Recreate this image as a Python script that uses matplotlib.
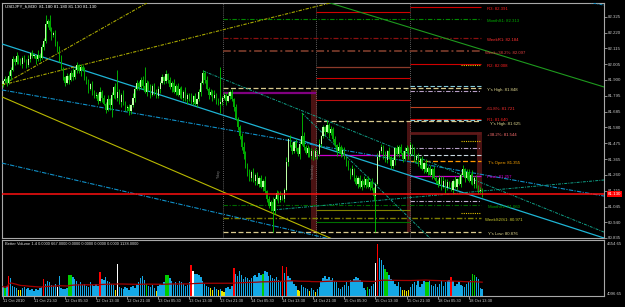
import matplotlib
matplotlib.use('Agg')
import matplotlib.pyplot as plt
import numpy as np
import pandas as pd

W, H = 625, 307
FONT = 'Liberation Sans'

# ---------------- data ----------------
first_open = 81.87
closes = [
    81.89, 81.91, 81.88, 81.93, 81.97, 82.04, 82.02, 82.06, 82.03, 82.01, 82.05, 82.03, 82.00, 82.04, 82.08, 82.06,
    82.06, 82.04, 82.07, 82.05, 82.12, 82.16, 82.28, 82.30, 82.24, 82.20, 82.22, 82.15, 82.10, 82.05, 81.98, 81.92,
    81.88, 81.93, 81.90, 81.95, 81.92, 81.97, 82.00, 81.96, 81.99, 81.97, 81.92, 81.88, 81.84, 81.87, 81.82, 81.79,
    81.80, 81.76, 81.82, 81.78, 81.74, 81.70, 81.77, 81.73, 81.80, 81.85, 81.78, 81.82, 81.75, 81.80, 81.74, 81.71,
    81.72, 81.69, 81.73, 81.78, 81.84, 81.88, 81.85, 81.90, 81.86, 81.82, 81.88, 81.84, 81.80, 81.86, 81.83, 81.79,
    81.84, 81.88, 81.92, 81.89, 81.94, 81.90, 81.85, 81.88, 81.82, 81.86, 81.80, 81.84, 81.78, 81.82, 81.77, 81.80,
    81.78, 81.75, 81.79, 81.74, 81.77, 81.82, 81.88, 81.95, 81.90, 81.84, 81.80, 81.82, 81.78, 81.80, 81.76, 81.74,
    81.75, 81.78, 81.80, 81.76, 81.79, 81.82, 81.77, 81.72, 81.64, 81.58, 81.52, 81.45, 81.40, 81.33, 81.28, 81.24,
    81.28, 81.22, 81.26, 81.20, 81.24, 81.18, 81.22, 81.15, 81.10, 81.05, 81.08, 81.02, 81.10, 81.14, 81.09, 81.12,
    81.10, 81.16, 81.35, 81.50, 81.46, 81.42, 81.48, 81.44, 81.40, 81.47, 81.52, 81.45, 81.41, 81.44, 81.39, 81.42,
    81.38, 81.42, 81.40, 81.47, 81.52, 81.58, 81.55, 81.60, 81.54, 81.57, 81.50, 81.46, 81.42, 81.45, 81.40, 81.43,
    81.38, 81.34, 81.30, 81.26, 81.30, 81.24, 81.20, 81.24, 81.18, 81.22, 81.19, 81.23, 81.18, 81.21, 81.17, 81.12,
    81.20, 81.38, 81.42, 81.45, 81.40, 81.36, 81.42, 81.38, 81.32, 81.36, 81.44, 81.40, 81.45, 81.41, 81.37, 81.42,
    81.44, 81.40, 81.46, 81.42, 81.36, 81.39, 81.33, 81.37, 81.30, 81.34, 81.28, 81.31, 81.26, 81.30, 81.24, 81.22,
    81.20, 81.24, 81.18, 81.22, 81.17, 81.21, 81.19, 81.16, 81.22, 81.18, 81.23, 81.20, 81.26, 81.30, 81.24, 81.28,
    81.22, 81.26, 81.20, 81.24, 81.18, 81.15, 81.16, 81.13,
]
# wick lengths above / below each body, in hundredths of a yen (one digit per bar)
wick_up = ("1213221312121312" "2131223142121321" "1212312121213121" "2131213121312132"
           "1213121231213121" "2121312131212131" "1312121213121312" "2121312121223212"
           "1312121312131213" "2131321212131212" "1213121312121312" "2121312121312131"
           "1312121312121213" "2121312121312121" "1213121213121312" "21312121")
wick_dn = ("2121312121312121" "1312121213121312" "2131212131213121" "1213121312121312"
           "2121312121312131" "1312121312121213" "2121213121312121" "1213121312223232"
           "2131213121312121" "1213121213121312" "2131212131213121" "1213121312121213"
           "2121312121312121" "1312121213121312" "2121312131212131" "12131212")
spike_hi = [(22, 82.338), (59, 81.968), (73, 81.988), (103, 81.968), (112, 81.988), (154, 81.678)]
spike_lo = [(56, 81.651), (65, 81.664), (112, 81.678), (139, 80.875), (192, 80.875)]

volumes = [
    835, 745, 930, 1765, 1580, 930, 835, 745, 560, 560, 745, 835, 650, 745, 560, 650,
    465, 650, 560, 745, 835, 1490, 1115, 1300, 1210, 1025, 930, 1115, 835, 1765, 745, 650,
    650, 745, 1860, 1860, 1675, 1490, 1300, 1115, 1210, 1025, 1115, 930, 835, 1210, 1025, 930,
    1115, 930, 2140, 1490, 1395, 1675, 1300, 1210, 1115, 1025, 560, 2885, 835, 745, 650, 835,
    745, 560, 835, 930, 745, 1025, 1210, 1580, 1765, 1395, 1115, 930, 835, 1025, 745, 465,
    930, 1115, 1025, 1210, 1860, 1860, 1580, 1300, 1115, 1210, 1025, 1300, 1210, 1115, 930, 1025,
    1210, 2790, 2230, 1955, 1955, 1860, 1675, 1300, 1115, 930, 835, 745, 560, 835, 650, 560,
    650, 465, 370, 745, 835, 650, 930, 2510, 1955, 1765, 2230, 1860, 1490, 1675, 1580, 1395,
    1580, 1765, 1860, 1675, 2045, 1860, 1955, 2230, 2140, 1765, 1860, 1580, 1490, 1675, 1395, 1300,
    2700, 2045, 2605, 1765, 1580, 1300, 1115, 930, 560, 465, 1025, 835, 745, 650, 465, 745,
    560, 370, 650, 835, 1210, 1580, 1765, 1490, 1675, 1395, 1580, 1300, 1210, 745, 650, 835,
    1025, 1210, 930, 1395, 1300, 1490, 1675, 1580, 1395, 1210, 745, 560, 835, 650, 930, 1115,
    2975, 4650, 3440, 3255, 2790, 2420, 2140, 1860, 1490, 1300, 1115, 930, 1210, 835, 560, 560,
    465, 560, 835, 1115, 1210, 1025, 1395, 835, 1115, 1300, 1210, 1210, 1395, 1025, 930, 1115,
    835, 1115, 1300, 930, 1210, 1300, 1395, 1675, 1300, 930, 1115, 1210, 1025, 930, 835, 1115,
    1210, 1395, 1955, 1860, 1675, 1490, 745, 667,
]
vol_codes = ("cgcrccccyycccccc" "cccccrccccccwccc"
             "ccggcccccccccccc" "ccrcccccccywcccc" "ccccccccccgccccy" "ccccggcccccccccc"
             "crwccccccccyyccy" "cyyccccrcccccccc" "ccccccgccccccccc" "rcrcccccyyccccyc"
             "cycccccccccccccc" "ccccccccccccgccc" "wrcccggcccccccyy" "yyccccccccggcccc"
             "cccccccrcccccccc" "ccggcccc")
vol_colors = {'c': '#14A8E6', 'r': '#FF0000', 'g': '#00CC00', 'y': '#E8E800', 'w': '#FFFFFF'}
vol_ma_window = 100

price_ticks = [82.325, 82.220, 82.115, 82.005, 81.900, 81.795, 81.685, 81.580,
               81.475, 81.365, 81.260, 81.155, 81.045, 80.940, 80.835]
date_labels = ["11 Oct 2010", "11 Oct 21:30", "12 Oct 05:30", "12 Oct 13:30", "12 Oct 21:30",
               "13 Oct 05:30", "13 Oct 13:30", "13 Oct 21:30", "14 Oct 05:30", "14 Oct 13:30",
               "14 Oct 21:30", "15 Oct 05:30", "15 Oct 13:30", "15 Oct 21:30", "18 Oct 05:30",
               "18 Oct 13:30"]
bars_per_label = 16
bid = 81.130

# day separators (bar index) and end of today's levels
sep_a, sep_b, sep_c, lvl_end = 113.5, 161.5, 210.0, 246.5

DDOT_T = (0, (3, 1.2, 1, 1.2))
# trend lines: (bar0, price0, bar1, price1, color, style, lw)
trendlines = [
    (-0.5, 82.143, 309.8, 80.835, '#1EB4D4', '-', 0.9),
    (-0.5, 81.833, 309.8, 81.118, '#1090C8', (0, (4, 1.2, 1, 1.2)), 0.8),
    (-0.5, 81.340, 171.1, 80.821, '#1090C8', (0, (4, 1.2, 1, 1.2)), 0.8),
    (-0.5, 81.786, 171.1, 80.821, '#B8B800', '-', 0.8),
    (-0.5, 81.866, 74.2, 82.419, '#A8A800', DDOT_T, 0.8),
    (-0.5, 81.866, 168.6, 82.419, '#A8A800', DDOT_T, 0.8),
    (168.6, 82.419, 309.8, 81.853, '#1E9A1E', '-', 0.8),
    (103.1, 81.961, 309.8, 80.875, '#10A088', DDOT_T, 0.7),
    (154.1, 81.678, 221.1, 80.821, '#10A088', DDOT_T, 0.7),
    (139.2, 81.024, 309.8, 81.226, '#10A088', DDOT_T, 0.7),
    (298.0, 82.432, 309.8, 82.405, '#1090C8', DDOT_T, 0.7),
]

DASH = (0, (4, 2))
DDOT = (0, (4, 1.5, 1, 1.5))
DOT = (0, (1, 1))
# horizontal levels: (price, bar0, bar1, color, style, lw)
levels = [
    (82.391, sep_c, lvl_end, '#D00000', '-', 0.8),
    (82.359, sep_b, sep_c, '#D00000', '-', 0.8),
    (82.313, sep_a, lvl_end, '#008800', DDOT, 0.8),
    (82.184, sep_a, lvl_end, '#8B1010', DDOT, 0.9),
    (82.097, sep_a, lvl_end, '#6B3426', DDOT, 1.4),
    (82.008, sep_c, lvl_end, '#D00000', '-', 0.8),
    (82.000, 236.0, lvl_end, '#E0C000', DOT, 0.8),
    (81.988, sep_b, sep_c, '#8B3A2A', '-', 0.9),
    (81.914, sep_b, sep_c, '#D00000', '-', 0.8),
    (81.860, sep_c, lvl_end, '#80C8D8', DASH, 0.8),
    (81.848, sep_a, lvl_end, '#D8C88C', DASH, 0.9),
    (81.828, sep_c, lvl_end, '#B8A0C8', DDOT, 0.8),
    (81.815, sep_a, sep_b, '#800080', '-', 1.6),
    (81.765, sep_b, sep_c, '#C01010', '-', 0.8),
    (81.721, sep_c, lvl_end, '#C04020', '-', 0.8),
    (81.640, sep_c, lvl_end, '#D00000', '-', 0.8),
    (81.632, sep_c, lvl_end, '#80C8D8', DASH, 0.8),
    (81.625, sep_b, lvl_end, '#D8C88C', DASH, 0.9),
    (81.544, sep_c, lvl_end, '#5E1818', '-', 2.0),
    (81.489, 236.0, lvl_end, '#E0C000', DOT, 0.8),
    (81.442, sep_c, lvl_end, '#B8A0C8', DDOT, 0.8),
    (81.394, sep_c, lvl_end, '#C8D8E0', DASH, 0.8),
    (81.394, sep_b, sep_c, '#CC00CC', '-', 0.9),
    (81.355, sep_c, lvl_end, '#FF9900', DASH, 0.9),
    (81.255, sep_c, lvl_end, '#CC00CC', '-', 0.9),
    (81.084, sep_c, lvl_end, '#C0B0D0', DDOT, 0.8),
    (81.058, sep_a, lvl_end, '#006A00', DDOT, 0.8),
    (81.024, sep_b, sep_c, '#808000', '-', 0.8),
    (81.003, 236.0, lvl_end, '#E0C000', DOT, 0.8),
    (80.971, sep_a, lvl_end, '#808000', DDOT, 1.0),
    (80.943, sep_b, sep_c, '#007000', '-', 0.8),
    (80.876, sep_a, lvl_end, '#D8C88C', DASH, 0.9),
]

# level labels: (text, price, bar, color)
level_labels = [
    ("R3: 82.391", 82.391, 249.5, '#FF2020'),
    ("MonthS1: 82.313", 82.313, 249.5, '#00B000'),
    ("WeekR1: 82.184", 82.184, 249.5, '#FF3030'),
    ("Week+38.2%: 82.097", 82.097, 248.5, '#E04040'),
    ("R2: 82.008", 82.008, 249.5, '#FF2020'),
    ("Y's High: 81.848", 81.848, 249.5, '#E0D890'),
    ("-61.8%: 81.721", 81.721, 249.0, '#FF3030'),
    ("R1: 81.640", 81.642, 249.5, '#FF2020'),
    ("Y's High: 81.625", 81.618, 251.0, '#E0D890'),
    ("+38.2%: 81.544", 81.544, 249.5, '#FF7070'),
    ("T's Open: 81.355", 81.355, 250.0, '#FFA500'),
    ("Pivot: 81.257", 81.257, 249.5, '#E000E0'),
    ("MonthS2: 81.060", 81.060, 250.0, '#00A000'),
    ("WeekS2/S1: 80.971", 80.971, 248.5, '#D0D030'),
    ("Y's Low: 80.876", 80.876, 250.0, '#E0D890'),
]

# dark daily range columns: (bar0, bar1, top, bottom)
range_cols = [(158.8, 161.9, 81.833, 80.869), (208.2, 210.3, 81.625, 80.876), (244.3, 246.9, 81.547, 81.142)]

# ---------------- figure ----------------
fig = plt.figure(figsize=(W / 100, H / 100), dpi=100, facecolor='black')
ax = fig.add_axes([2 / W, 1 - 238 / H, 602 / W, 235 / H], facecolor='black')
vax = fig.add_axes([2 / W, 1 - 296 / H, 602 / W, 56 / H], facecolor='black')

n = len(closes)
idx = np.arange(n)
opens = np.array([first_open] + closes[:-1])
cl = np.array(closes)
XL = (-0.5, 309.8)

for a in (ax, vax):
    a.set_xlim(*XL)
    for s in a.spines.values():
        s.set_color('#A8A8A8')
        s.set_linewidth(0.8)

ax.set_ylim(80.835, 82.419)

# range columns
for b0, b1, top, bot in range_cols:
    ax.fill_between([b0, b1], bot, top, color='#4A1212', lw=0, zorder=1)

# separators
for s in (sep_a, sep_b, sep_c):
    ax.axvline(s, color='#808080', lw=0.6, ls=(0, (1, 1.5)), zorder=1)
ax.text(111.3, 81.273, "Y'day", rotation=90, fontsize=2.6, color='#7A7A7A', family=FONT, ha='center', va='center')
ax.text(159.8, 81.286, "Yesterday", rotation=90, fontsize=2.6, color='#7A7A7A', family=FONT, ha='center', va='center')

# levels
for p, b0, b1, c, ls, lw in levels:
    ax.hlines(p, b0, b1, colors=c, linestyles=[ls], lw=lw, zorder=2)

# trend lines
for b0, p0, b1, p1, c, ls, lw in trendlines:
    ax.plot([b0, b1], [p0, p1], color=c, ls=ls, lw=lw, zorder=3)

# candles
body_top = np.maximum(opens, cl)
body_bot = np.minimum(opens, cl)
highs = body_top + np.array([int(ch) for ch in wick_up[:n]]) * 0.01
lows = body_bot - np.array([int(ch) for ch in wick_dn[:n]]) * 0.01
for b, hi in spike_hi:
    highs[b] = hi
for b, lo in spike_lo:
    lows[b] = lo
ax.vlines(idx, lows, highs, color='#00C800', lw=0.6, zorder=4)
bull = cl >= opens
body_h = np.maximum(body_top - body_bot, 0.006)
ax.bar(idx[bull], body_h[bull], bottom=body_bot[bull], width=0.6, color='#C0FFA8',
       linewidth=0, zorder=5)
ax.bar(idx[~bull], body_h[~bull], bottom=body_bot[~bull], width=0.6, color='#00A800',
       linewidth=0, zorder=5)

# bid line
ax.axhline(bid, color='#FF1010', lw=1.1, zorder=6)

# level labels
for t, p, b, c in level_labels:
    ax.text(b, p, t, fontsize=3.1, color=c, family=FONT, va='top', ha='left', zorder=7)

# y axis
ax.yaxis.tick_right()
ax.set_yticks(price_ticks)
ax.set_yticklabels([f"{v:.3f}" for v in price_ticks])
ax.tick_params(axis='y', length=2, width=0.5, color='#C0C0C0', labelsize=3.2,
               labelcolor='#C8C8C8', pad=1)
for lab in ax.get_yticklabels():
    lab.set_family(FONT)
ax.set_xticks([])
ax.text(1.006, (bid - 80.835) / (82.419 - 80.835), f"{bid:.3f}", transform=ax.transAxes,
        fontsize=3.2, family=FONT, color='white', va='center', ha='left', zorder=10,
        bbox=dict(boxstyle='square,pad=0.25', fc='#FF0000', ec='none'))

fig.text(5 / W, 1 - 6 / H, "USDJPY_fi,M30  81.180 81.180 81.130 81.130", fontsize=3.2,
         color='white', family=FONT, va='center', ha='left')

# ---------------- volume ----------------
vcols = [vol_colors[c] for c in vol_codes[:n]]
vax.bar(idx, volumes, width=0.72, color=vcols, linewidth=0, zorder=2)
ma = pd.Series(volumes).rolling(vol_ma_window, min_periods=1).mean()
vax.plot(idx, ma, color='#A00000', lw=0.9, zorder=3)
vax.set_ylim(0, 5012)
vax.set_yticks([])
vax.set_xticks(np.arange(len(date_labels)) * bars_per_label)
vax.set_xticklabels(date_labels)
vax.tick_params(axis='x', length=2, width=0.5, color='#C0C0C0', labelsize=2.9,
                labelcolor='#D0D0D0', pad=0.5)
for lab in vax.get_xticklabels():
    lab.set_family(FONT)
    lab.set_horizontalalignment('left')
vax.text(0.005, 0.92, "Better Volume 1.4 0.0000 667.0000 0.0000 0.0000 0.0000 0.0000 1138.0000",
         transform=vax.transAxes, fontsize=2.9, color='#E0E0E0', family=FONT, va='center', ha='left')
fig.text(607 / W, 1 - 244 / H, "4654.65", fontsize=3.1, color='#C8C8C8', family=FONT, va='center')
fig.text(607 / W, 1 - 294 / H, "4096.65", fontsize=3.1, color='#C8C8C8', family=FONT, va='center')

fig.savefig('out.png', dpi=100, facecolor='black')
